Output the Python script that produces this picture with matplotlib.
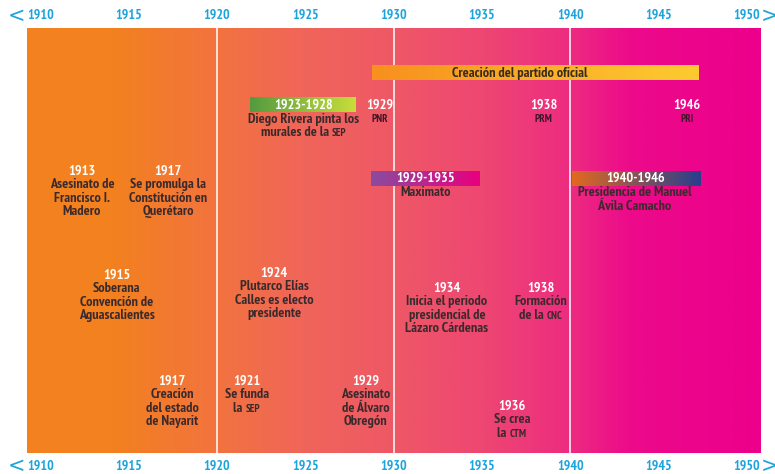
import numpy as np
import matplotlib.pyplot as plt
from matplotlib.colors import LinearSegmentedColormap

# Datos de la línea del tiempo
years = [1910, 1915, 1920, 1925, 1930, 1935, 1940, 1945, 1950]
x_min, x_max = 1909.25, 1950.8
dividers = [1920, 1930, 1940]

# fondo: colores por año
bg_years = [1909.25, 1914.0, 1920.0, 1925.0, 1930.0, 1935.0, 1940.0, 1943.5, 1950.8]
bg_colors = ['#f3811f', '#f3811f', '#f2733f', '#f0655a', '#ee5866', '#ee4772',
             '#ed2c80', '#ec0a8a', '#ec008c']

# barras: inicio, fin, fila, colores del degradado, etiqueta
bar_start = [1928.8, 1921.9, 1928.75, 1940.1]
bar_end = [1947.3, 1927.85, 1934.9, 1947.35]
bar_row = [73, 105, 178.5, 178.5]
bar_c1 = ['#f7901e', '#549a40', '#8a4c9f', '#e2691f']
bar_c2 = ['#fdcb30', '#c8dd3a', '#e8007f', '#283f8e']
bar_label = ['Creación del partido oficial', '1923-1928', '1929-1935', '1940-1946']
bar_label_x = [1937.15, 1924.9, 1931.8, 1943.7]
bar_label_color = ['#3a2a1c', 'white', 'white', 'white']

# eventos: centro x, fila del año, año, líneas, sigla final en versalitas
ev_x = [1912.36, 1917.23, 1914.34, 1923.23, 1924.9, 1929.23, 1938.51, 1946.6,
        1931.8, 1943.66, 1933.02, 1938.34, 1917.46, 1921.7, 1928.43, 1936.7]
ev_y = [171, 171, 275, 273, None, 105, 105, 105,
        None, None, 288, 288, 381, 381, 381, 406]
ev_year = ['1913', '1917', '1915', '1924', '', '1929', '1938', '1946',
           '', '', '1934', '1938', '1917', '1921', '1929', '1936']
ev_lines = [
    ['Asesinato de', 'Francisco I.', 'Madero'],
    ['Se promulga la', 'Constitución en', 'Querétaro'],
    ['Soberana', 'Convención de', 'Aguascalientes'],
    ['Plutarco Elías', 'Calles es electo', 'presidente'],
    ['Diego Rivera pinta los', 'murales de la '],
    [''],
    [''],
    [''],
    ['Maximato'],
    ['Presidencia de Manuel', 'Ávila Camacho'],
    ['Inicia el periodo', 'presidencial de', 'Lázaro Cárdenas'],
    ['Formación', 'de la '],
    ['Creación', 'del estado', 'de Nayarit'],
    ['Se funda', 'la '],
    ['Asesinato', 'de Álvaro', 'Obregón'],
    ['Se crea', 'la '],
]
ev_small = ['', '', '', '', 'SEP', 'PNR', 'PRM', 'PRI',
            '', '', '', 'CNC', '', 'SEP', '', 'CTM']
ev_first = [None, None, None, None, 119, None, None, None,
            193, 193, None, None, None, None, None, None]

FONT = ['PT Sans Narrow', 'Roboto Condensed', 'DejaVu Sans']
BLUE = '#1ca3dc'
DARK = '#3b2a2c'
LH = 13.6
FS = 10.3

fig = plt.figure(figsize=(7.75, 4.74), dpi=100)
ax = fig.add_axes([27 / 775, 21 / 474, 734 / 775, 425 / 474])
ax.set_xlim(x_min, x_max)
ax.set_ylim(453, 28)
ax.axis('off')

cmap = LinearSegmentedColormap.from_list(
    'bg', [((y - x_min) / (x_max - x_min), c) for y, c in zip(bg_years, bg_colors)])
ax.imshow(np.linspace(0, 1, 600)[None, :], cmap=cmap, aspect='auto',
          extent=[x_min, x_max, 453, 28], zorder=0)
for d in dividers:
    ax.axvline(d, color='white', lw=1.1, zorder=1)

for s, e, r, c1, c2, lab, lx, lc in zip(bar_start, bar_end, bar_row, bar_c1, bar_c2,
                                        bar_label, bar_label_x, bar_label_color):
    cm = LinearSegmentedColormap.from_list('b', [c1, c2])
    ax.imshow(np.linspace(0, 1, 200)[None, :], cmap=cm, aspect='auto',
              extent=[s, e, r + 7.2, r - 7.2], zorder=2)
    ax.text(lx, r, lab, ha='center', va='center', color=lc,
            fontsize=FS, fontweight='bold', family=FONT, zorder=3)
ax.set_xlim(x_min, x_max)
ax.set_ylim(453, 28)

renderer = fig.canvas.get_renderer()
for x, y, yr, lines, small, first in zip(ev_x, ev_y, ev_year, ev_lines, ev_small, ev_first):
    if yr:
        ax.text(x, y, yr, ha='center', va='center', color='white',
                fontsize=FS, fontweight='bold', family=FONT, zorder=3)
        y0 = y + LH
    else:
        y0 = first
    for i, line in enumerate(lines):
        yy = y0 + i * LH
        last = i == len(lines) - 1
        if last and small:
            # texto normal + sigla más pequeña, centrado en conjunto
            t1 = ax.text(x, yy, line, ha='left', va='center', color=DARK,
                         fontsize=FS, fontweight='bold', family=FONT, zorder=3)
            t2 = ax.text(x, yy + 0.8, small, ha='left', va='center',
                         color=DARK if line else '#3d1529',
                         fontsize=FS * 0.76, fontweight='bold', family=FONT, zorder=3)
            w1 = t1.get_window_extent(renderer).width if line else 0
            w2 = t2.get_window_extent(renderer).width
            px0 = ax.transData.transform((x, yy))[0] - (w1 + w2) / 2
            x1 = ax.transData.inverted().transform((px0, 0))[0]
            x2 = ax.transData.inverted().transform((px0 + w1, 0))[0]
            t1.set_x(x1)
            t2.set_x(x2)
        elif line:
            ax.text(x, yy, line, ha='center', va='center', color=DARK,
                    fontsize=FS, fontweight='bold', family=FONT, zorder=3)

# escala de años arriba y abajo
for y_tick in (15.5, 466):
    for yr in years:
        ax.text(yr, y_tick, str(yr), ha='center', va='center', color=BLUE,
                fontsize=10, fontweight='bold', family=FONT, clip_on=False)
    ax.text(1908.65, y_tick, '<', ha='center', va='center', color=BLUE,
            fontsize=15, family=['DejaVu Sans'], clip_on=False)
    ax.text(1951.3, y_tick, '>', ha='center', va='center', color=BLUE,
            fontsize=15, family=['DejaVu Sans'], clip_on=False)

fig.savefig('out.png', dpi=100)
